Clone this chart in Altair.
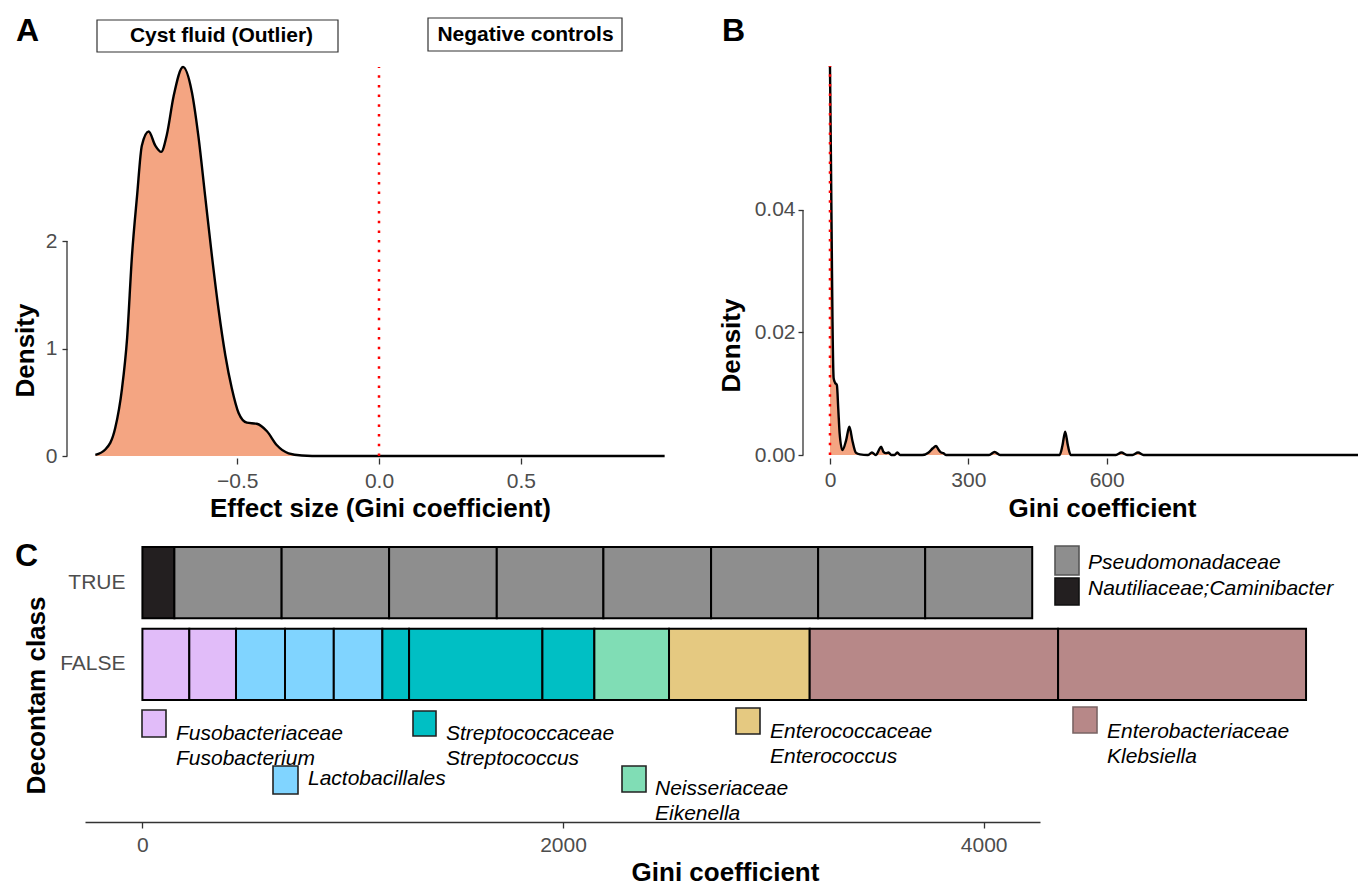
import altair as alt
import pandas as pd

# ---------------- data ----------------
# Panel A: density of effect size (Gini coefficient)
A_x = [-1.0, -0.965, -0.93, -0.906, -0.888, -0.871, -0.853, -0.836, -0.812, -0.789,
       -0.768, -0.748, -0.724, -0.691, -0.66, -0.636, -0.613, -0.589, -0.566, -0.542,
       -0.519, -0.495, -0.466, -0.431, -0.395, -0.36, -0.319, -0.272, -0.2, 0.5, 1.007]
A_y = [0.01, 0.06, 0.26, 0.63, 1.10, 1.86, 2.42, 2.89, 3.02, 2.89,
       2.83, 2.99, 3.35, 3.62, 3.39, 2.96, 2.42, 1.86, 1.37, 0.94,
       0.63, 0.40, 0.31, 0.30, 0.23, 0.10, 0.025, 0.005, 0.0, 0.0, 0.0]
A_xticks = [-0.5, 0.0, 0.5]
A_yticks = [0, 1, 2]
A_strips = ["Cyst fluid (Outlier)", "Negative controls"]

# Panel B: density of Gini coefficient
B_x = [0, 2, 4, 5.5, 8, 11, 15, 18, 21, 27, 35, 42, 49, 56, 65, 82, 91, 100, 106, 111,
       116, 121, 127, 133, 140, 146, 152, 158, 200, 214, 223, 230, 236, 241, 246, 252,
       260, 345, 357, 369, 498, 504, 510, 516, 522, 620, 632, 644, 656, 668, 680, 1145]
B_y = [0.0635, 0.049, 0.033, 0.0217, 0.0125, 0.0118, 0.0114, 0.0075, 0.0035, 0.0008,
       0.0024, 0.0046, 0.0022, 0.0004, 0.0001, 0.0, 0.0004, 0.0, 0.0008, 0.00136,
       0.0005, 0.0003, 0.0004, 0.0, 0.0, 0.0004, 0.0, 0.0, 0.0, 0.0004,
       0.0011, 0.00147, 0.0008, 0.0004, 0.0003, 0.0, 0.0, 0.0, 0.0005, 0.0,
       0.0, 0.0015, 0.0038, 0.0015, 0.0, 0.0, 0.0004, 0.0, 0.0, 0.0004, 0.0, 0.0]
B_xticks = [0, 300, 600]
B_yticks = [0.0, 0.02, 0.04]

# Panel C: stacked Gini coefficient per decontam class
C_classes = ["TRUE", "FALSE"]
C_true_family = ["Nautiliaceae;Caminibacter", "Pseudomonadaceae", "Pseudomonadaceae",
                 "Pseudomonadaceae", "Pseudomonadaceae", "Pseudomonadaceae",
                 "Pseudomonadaceae", "Pseudomonadaceae", "Pseudomonadaceae"]
C_true_gini = [152, 510, 511, 512, 507, 512, 509, 509, 509]
C_false_family = ["Fusobacteriaceae", "Fusobacteriaceae", "Lactobacillales", "Lactobacillales",
                  "Lactobacillales", "Streptococcaceae", "Streptococcaceae", "Streptococcaceae",
                  "Neisseriaceae", "Enterococcaceae", "Enterobacteriaceae", "Enterobacteriaceae"]
C_false_gini = [223, 222, 233, 232, 231, 127, 634, 247, 355, 669, 1181, 1179]
C_xticks = [0, 2000, 4000]

families = ["Pseudomonadaceae", "Nautiliaceae;Caminibacter", "Fusobacteriaceae",
            "Lactobacillales", "Streptococcaceae", "Neisseriaceae",
            "Enterococcaceae", "Enterobacteriaceae"]
family_colors = ["#8E8E8E", "#231F20", "#E1BCF9", "#80D4FF", "#00BFC4", "#80DDB5",
                 "#E5C981", "#B78888"]
family_labels = ["Pseudomonadaceae", "Nautiliaceae;Caminibacter",
                 "Fusobacteriaceae\nFusobacterium", "Lactobacillales",
                 "Streptococcaceae\nStreptococcus", "Neisseriaceae\nEikenella",
                 "Enterococcaceae\nEnterococcus", "Enterobacteriaceae\nKlebsiella"]

# ---------------- layout (page pixels) ----------------
W, H = 1350, 877


def px(v):
    return v - 8


FONT = "Liberation Sans"
FILL = "#F4A582"
TICK_GRAY = "#4D4D4D"
AX = "#333333"

# ---------------- Panel A ----------------
dfA = pd.DataFrame({"x": A_x, "y": A_y})
scAx = alt.Scale(domain=[-1.1, 1.107], range=[px(67), px(693)], zero=False, nice=False)
scAy = alt.Scale(domain=[0, max(A_y)], range=[px(456), px(67)], zero=False, nice=False)
axAx = alt.Axis(values=A_xticks, format=".1f", orient="bottom", offset=px(458) - H,
                domain=False, tickSize=6, labelPadding=6, labelFlush=False,
                title="Effect size (Gini coefficient)", titleX=px(380), titleY=50,
                titleBaseline="middle")
axAy = alt.Axis(values=A_yticks, format="d", orient="left", offset=-px(67),
                domain=False, tickSize=5, labelPadding=5, labelFlush=False,
                title="Density", titleX=25 - 67, titleY=px(350), titleAngle=270,
                titleBaseline="middle", titleAlign="center")
xA = alt.X("x:Q", scale=scAx, axis=axAx)
yA = alt.Y("y:Q", scale=scAy, axis=axAy)

areaA = alt.Chart(dfA).mark_area(color=FILL, interpolate="monotone").encode(x=xA, y=yA)
lineA = alt.Chart(dfA).mark_line(color="black", strokeWidth=2.4,
                                 interpolate="monotone").encode(x=xA, y=yA)
vA = pd.DataFrame({"x": [0.0], "y": [0.0], "y2": [max(A_y)]})
vlineA = alt.Chart(vA).mark_rule(color="red", strokeWidth=2.5,
                                 strokeDash=[2.5, 7.2]).encode(x=xA, y=yA, y2="y2:Q")
axlA = pd.DataFrame({"x": [-1.1], "y": [A_yticks[0]], "y2": [A_yticks[-1]]})
axlineA = alt.Chart(axlA).mark_rule(color=AX, strokeWidth=1.3).encode(x=xA, y=yA, y2="y2:Q")
panelA = alt.layer(areaA, lineA, vlineA, axlineA)

# ---------------- Panel B ----------------
dfB = pd.DataFrame({"x": B_x, "y": B_y})
scBx = alt.Scale(domain=[-58.5, 1145], range=[px(803), px(1358)], zero=False, nice=False)
scBy = alt.Scale(domain=[0, max(B_y)], range=[px(455), px(66)], zero=False, nice=False)
axBx = alt.Axis(values=B_xticks, format="d", orient="bottom", offset=px(458) - H,
                domain=False, tickSize=6, labelPadding=5, labelFlush=False,
                title="Gini coefficient", titleX=px(1102), titleY=50,
                titleBaseline="middle")
axBy = alt.Axis(values=B_yticks, format=".2f", orient="left", offset=-px(803),
                domain=False, tickSize=5, labelPadding=3, labelFlush=False,
                title="Density", titleX=731 - 803, titleY=px(345), titleAngle=270,
                titleBaseline="middle", titleAlign="center")
xB = alt.X("x:Q", scale=scBx, axis=axBx)
yB = alt.Y("y:Q", scale=scBy, axis=axBy)

areaB = alt.Chart(dfB).mark_area(color=FILL, interpolate="monotone").encode(x=xB, y=yB)
lineB = alt.Chart(dfB).mark_line(color="black", strokeWidth=2.4,
                                 interpolate="monotone").encode(x=xB, y=yB)
vB = pd.DataFrame({"x": [0.0], "y": [0.0], "y2": [max(B_y)]})
vlineB = alt.Chart(vB).mark_rule(color="red", strokeWidth=2.5,
                                 strokeDash=[2.5, 7.2]).encode(x=xB, y=yB, y2="y2:Q")
axlB = pd.DataFrame({"x": [-58.5], "y": [B_yticks[0]], "y2": [B_yticks[-1]]})
axlineB = alt.Chart(axlB).mark_rule(color=AX, strokeWidth=1.3).encode(x=xB, y=yB, y2="y2:Q")
panelB = alt.layer(areaB, lineB, vlineB, axlineB)

# ---------------- Panel C ----------------
rows = []
for i, (f, g) in enumerate(zip(C_true_family, C_true_gini)):
    rows.append({"cls": "TRUE", "family": f, "gini": g, "idx": i})
for i, (f, g) in enumerate(zip(C_false_family, C_false_gini)):
    rows.append({"cls": "FALSE", "family": f, "gini": g, "idx": i})
dfC = pd.DataFrame(rows)

scCx = alt.Scale(domain=[-273, 4268], range=[px(85), px(1040)], zero=False, nice=False)
scCy = alt.Scale(domain=C_classes, range=[px(547), px(700)], paddingInner=0.128,
                 paddingOuter=0)
axCx = alt.Axis(values=C_xticks, format="d", orient="bottom", offset=px(822) - H,
                domain=True, domainColor=AX, domainWidth=1.3, tickSize=6,
                labelPadding=6, labelFlush=False,
                title="Gini coefficient", titleX=px(725), titleY=50,
                titleBaseline="middle")
axCy = alt.Axis(orient="left", offset=-px(130), domain=False, ticks=False,
                labelPadding=5, title="Decontam class", titleX=36 - 130,
                titleY=px(695), titleAngle=270, titleBaseline="middle",
                titleAlign="center")
barsC = alt.Chart(dfC).mark_bar(stroke="black", strokeWidth=2, strokeJoin="miter").encode(
    x=alt.X("gini:Q", stack="zero", scale=scCx, axis=axCx),
    y=alt.Y("cls:N", scale=scCy, axis=axCy),
    color=alt.Color("family:N", scale=alt.Scale(domain=families, range=family_colors),
                    legend=None),
    order=alt.Order("idx:Q"),
)
panelC = alt.layer(barsC)

# ---------------- annotations (legend keys, strip labels, panel tags) ----------------
annots = []


def text_layer(txt, x, y, size, weight="normal", style="normal", align="center",
               color="black", line_height=25):
    return alt.Chart(pd.DataFrame({"label": [txt]})).mark_text(
        font=FONT, fontSize=size, fontWeight=weight, fontStyle=style, align=align,
        baseline="middle", color=color, lineBreak="\n", lineHeight=line_height
    ).encode(x=alt.value(px(x)), y=alt.value(px(y)), text="label:N")


def box_layer(x0, y0, x1, y1, fill, stroke, sw):
    return alt.Chart(pd.DataFrame({"k": [0]})).mark_rect(
        fill=fill, stroke=stroke, strokeWidth=sw
    ).encode(x=alt.value(px(x0)), x2=alt.value(px(x1)),
             y=alt.value(px(y0)), y2=alt.value(px(y1)))


# strip-like labels of panel A
strip_boxes = [(97, 20, 338, 52, 221.5, 36), (428, 18, 622, 51, 525.5, 34.5)]
for lab, (x0, y0, x1, y1, tx, ty) in zip(A_strips, strip_boxes):
    annots.append(box_layer(x0, y0, x1, y1, "white", "#333333", 1.2))
    annots.append(text_layer(lab, tx, ty, 21, weight="bold"))

# panel tags
for tag, (tx, ty) in zip(["A", "B", "C"], [(27.5, 31), (733.5, 31), (26.5, 556)]):
    annots.append(text_layer(tag, tx, ty, 32, weight="bold"))

# legend keys (x0, y0, x1, y1, text_x, text_center_y, key stroke)
legend_layout = {
    "Pseudomonadaceae": (1055, 546, 1079, 575, 1088, 563, "#555555"),
    "Nautiliaceae;Caminibacter": (1055, 578, 1079, 605, 1088, 589, "#111111"),
    "Fusobacteriaceae": (142, 710, 166, 737, 176, 733.5, "#222222"),
    "Lactobacillales": (273, 766, 298, 794, 308, 779, "#222222"),
    "Streptococcaceae": (413, 711, 436, 736, 446, 733.5, "#222222"),
    "Neisseriaceae": (622, 766, 646, 792, 655, 789, "#222222"),
    "Enterococcaceae": (736, 708, 760, 734, 770, 732, "#222222"),
    "Enterobacteriaceae": (1073, 707, 1097, 733, 1107, 732, "#7A6464"),
}
for fam, col, lab in zip(families, family_colors, family_labels):
    x0, y0, x1, y1, tx, ty, st = legend_layout[fam]
    annots.append(box_layer(x0, y0, x1, y1, col, st, 1.6))
    annots.append(text_layer(lab, tx, ty, 21, style="italic", align="left"))

chart = alt.layer(panelA, panelB, panelC, *annots).resolve_scale(
    x="independent", y="independent"
).properties(
    width=W, height=H, padding=0, autosize=alt.AutoSizeParams(type="none")
).configure_view(
    strokeWidth=0
).configure_axis(
    grid=False, labelFont=FONT, titleFont=FONT, labelFontSize=21, labelColor=TICK_GRAY,
    titleFontSize=26, titleFontWeight="bold", titleColor="black",
    tickColor=AX, tickWidth=1.3, domainColor=AX
)

chart.save("out.html", embed_options={"renderer": "svg", "actions": False})
